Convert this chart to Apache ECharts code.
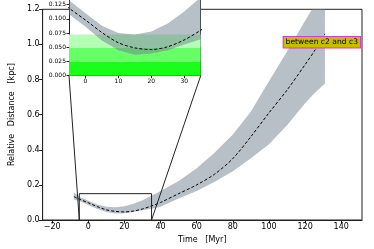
<!DOCTYPE html>
<html><head><meta charset="utf-8">
<script src="https://cdn.jsdelivr.net/npm/echarts@6/dist/echarts.min.js"></script>
<style>html,body{margin:0;padding:0;background:#fff}#c{width:374px;height:249px}</style>
</head><body><div id="c"></div>
<script>
// ---- data ----
const time   = [-8, -5, 0, 5, 10, 15, 20, 25, 30, 35, 40, 50, 60, 70, 80, 90, 100, 110, 120, 125, 131];
const centre = [0.133, 0.119, 0.098, 0.076, 0.058, 0.049, 0.046, 0.051, 0.063, 0.080, 0.100, 0.150, 0.200, 0.262, 0.350, 0.475, 0.610, 0.740, 0.885, 0.960, 1.060];
const lower  = [0.117, 0.108, 0.086, 0.062, 0.045, 0.037, 0.039, 0.045, 0.055, 0.064, 0.076, 0.122, 0.165, 0.218, 0.278, 0.352, 0.432, 0.540, 0.665, 0.720, 0.778];
const upper  = [0.158, 0.133, 0.110, 0.088, 0.075, 0.0725, 0.078, 0.092, 0.113, 0.138, 0.165, 0.222, 0.295, 0.385, 0.487, 0.618, 0.790, 0.960, 1.135, 1.220, 1.330];
const xTicks = [-20, 0, 20, 40, 60, 80, 100, 120, 140];
const insetXTicks = [0, 10, 20, 30];
const insetYTicks = [0, 0.025, 0.05, 0.075, 0.1, 0.125];
const greenLow  = [0, 0.025, 0.049];
const greenHigh = [0.025, 0.049, 0.0725];
const zoomT = [-5, 35];
const zoomV = [0, 0.15];
const labelText = 'between c2 and c3';

// ---- chart ----
const chart = echarts.init(document.getElementById('c'), null, {renderer: 'canvas'});
const FONT = 'DejaVu Sans';
const greenColors = ['#1aff1a', '#66ff66', '#b3ffb3'];
const minus = v => (v < 0 ? '\u2212' + (-v) : String(v));
const insetVisibleMax = 0.1333; // inset extends above the canvas edge

function band(xi, zl) {
  return {
    type: 'custom', xAxisIndex: xi, yAxisIndex: xi, zlevel: zl, z: 3, clip: true, silent: true,
    data: time.map((t, i) => [t, lower[i], upper[i]]),
    encode: {x: 0, y: [1, 2]},
    renderItem(params, api) {
      if (params.dataIndex !== 0) return null;
      const pts = [];
      for (let i = 0; i < time.length; i++) pts.push(api.coord([time[i], upper[i]]));
      for (let i = time.length - 1; i >= 0; i--) pts.push(api.coord([time[i], lower[i]]));
      return {type: 'polygon', shape: {points: pts}, style: {fill: 'rgba(112,128,144,0.5)'}};
    }
  };
}
function centreLine(xi, zl) {
  return {
    type: 'line', xAxisIndex: xi, yAxisIndex: xi, zlevel: zl, z: 4, clip: true, silent: true,
    data: time.map((t, i) => [t, centre[i]]), smooth: 0.3, showSymbol: false, symbol: 'none',
    lineStyle: {color: '#000', width: 1, type: [3, 2]}
  };
}

const axisCommon = {
  axisLine: {show: true, onZero: false, lineStyle: {color: '#222', width: 1}},
  splitLine: {show: false},
  axisTick: {show: true, inside: false, length: 3.5, lineStyle: {color: '#222', width: 1}},
};

const option = {
  animation: false,
  backgroundColor: '#fff',
  grid: [
    {left: 33.5, top: 9.3, width: 328.5, height: 210.7, show: true, borderColor: '#222', borderWidth: 1, backgroundColor: 'transparent'},
    {left: 69, top: 0, width: 131.7, height: 75.7, show: true, borderWidth: 0, backgroundColor: '#fff', zlevel: 1}
  ],
  xAxis: [
    Object.assign({}, axisCommon, {
      type: 'value', gridIndex: 0, min: -25.3, max: 151.5,
      axisTick: Object.assign({}, axisCommon.axisTick, {customValues: xTicks}),
      axisLabel: {customValues: xTicks, formatter: minus, fontFamily: FONT, fontSize: 8, color: '#000', margin: 3},
      name: 'Time   [Myr]', nameLocation: 'middle', nameGap: 14,
      nameTextStyle: {fontFamily: FONT, fontSize: 8, color: '#000'}
    }),
    Object.assign({}, axisCommon, {
      type: 'value', gridIndex: 1, min: -5, max: 35, zlevel: 1,
      axisTick: Object.assign({}, axisCommon.axisTick, {customValues: insetXTicks, length: 2.5}),
      axisLabel: {customValues: insetXTicks, fontFamily: FONT, fontSize: 6, color: '#000', margin: 3}
    })
  ],
  yAxis: [
    Object.assign({}, axisCommon, {
      type: 'value', gridIndex: 0, min: 0, max: 1.2, interval: 0.2,
      axisLabel: {formatter: v => v.toFixed(1), fontFamily: FONT, fontSize: 8, color: '#000', margin: 3},
      name: 'Relative   Distance   [kpc]', nameLocation: 'middle', nameGap: 19,
      nameTextStyle: {fontFamily: FONT, fontSize: 8, color: '#000'}
    }),
    Object.assign({}, axisCommon, {
      type: 'value', gridIndex: 1, min: 0, max: insetVisibleMax, zlevel: 1,
      axisTick: Object.assign({}, axisCommon.axisTick, {length: 2.5, customValues: insetYTicks}),
      axisLabel: {customValues: insetYTicks, formatter: v => v.toFixed(3), fontFamily: FONT, fontSize: 6, color: '#000', margin: 3}
    }),
    Object.assign({}, axisCommon, {
      type: 'value', gridIndex: 1, position: 'right', min: 0, max: insetVisibleMax, zlevel: 1,
      axisTick: {show: false}, axisLabel: {show: false}
    })
  ],
  series: [
    band(0, 0),
    centreLine(0, 0),
    {
      type: 'line', xAxisIndex: 0, yAxisIndex: 0, z: 5, silent: true, symbol: 'none', showSymbol: false,
      data: [[zoomT[0], zoomV[0]], [zoomT[0], zoomV[1]], [zoomT[1], zoomV[1]], [zoomT[1], zoomV[0]]],
      lineStyle: {color: '#222', width: 1}
    },
    {
      type: 'line', xAxisIndex: 1, yAxisIndex: 1, zlevel: 1, z: 1, silent: true, symbol: 'none', showSymbol: false,
      data: [[zoomT[0], zoomV[0]], [zoomT[1], zoomV[0]]],
      lineStyle: {opacity: 0},
      markArea: {
        silent: true, zlevel: 1, z: 1,
        data: greenLow.map((lo, i) => [
          {yAxis: lo, itemStyle: {color: greenColors[i], opacity: 1}},
          {yAxis: greenHigh[i]}
        ])
      }
    },
    band(1, 1),
    centreLine(1, 1)
  ],
  graphic: [{
    type: 'text', right: 13, top: 36, z: 10,
    style: {
      text: labelText, font: '7.6px "DejaVu Sans"', fill: '#000',
      backgroundColor: '#c8bc00', borderColor: '#d040c0', borderWidth: 1, padding: [1.5, 2, 1, 2]
    }
  }]
};
chart.setOption(option);

const a0 = chart.convertToPixel({gridIndex: 0}, [zoomT[0], zoomV[0]]);
const a1 = chart.convertToPixel({gridIndex: 0}, [zoomT[1], zoomV[0]]);
const b0 = chart.convertToPixel({gridIndex: 1}, [zoomT[0], zoomV[0]]);
const b1 = chart.convertToPixel({gridIndex: 1}, [zoomT[1], zoomV[0]]);
chart.setOption({
  graphic: [
    option.graphic[0],
    {type: 'line', z: 6, shape: {x1: a0[0], y1: a0[1], x2: b0[0], y2: b0[1]}, style: {stroke: '#222', lineWidth: 1}},
    {type: 'line', z: 6, shape: {x1: a1[0], y1: a1[1], x2: b1[0], y2: b1[1]}, style: {stroke: '#222', lineWidth: 1}}
  ]
});
</script>
</body></html>
